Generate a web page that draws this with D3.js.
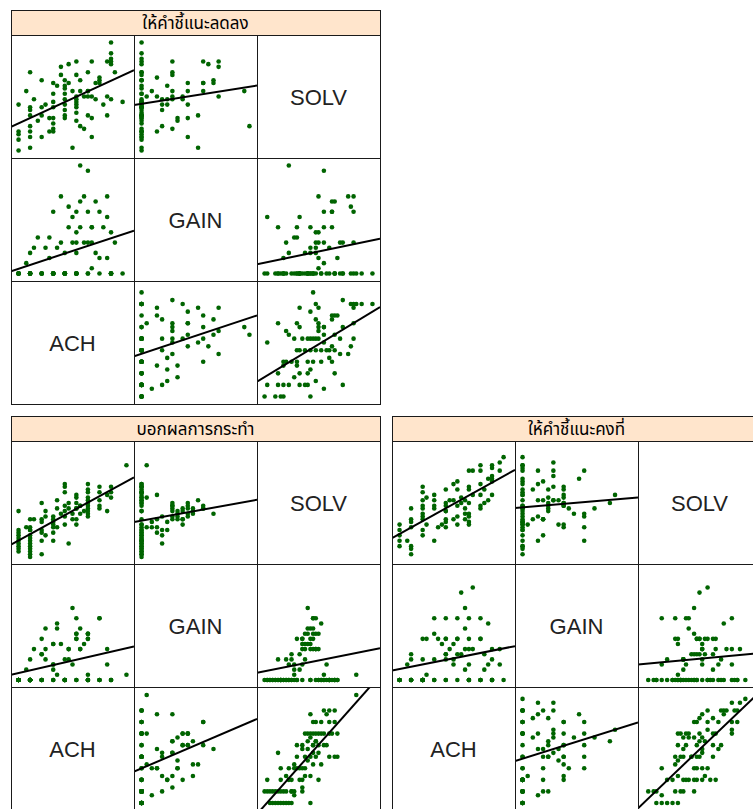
<!DOCTYPE html>
<html>
<head>
<meta charset="utf-8">
<script src="https://cdn.jsdelivr.net/npm/d3@7/dist/d3.min.js"></script>
<style>
  body { margin: 0; background: #fff; }
  svg { display: block; }
</style>
</head>
<body>
<svg id="chart" width="753" height="809"></svg>
<script>
// Variables of the scatterplot matrix, in column order (left to right).
const varNames = ["ACH", "GAIN", "SOLV"];

// Feedback groups, one splom panel each.
const groupNames = ["ให้คำชี้แนะลดลง", "บอกผลการกระทำ", "ให้คำชี้แนะคงที่"];

// One row per student: [ACH, GAIN, SOLV]
const studentsReduced = [
  [3,0,17],[3,0,7],[3,0,6],[3,0,4],[3,0,0],
  [6,0,29],[6,0,16],[6,0,15],[6,0,13],[6,0,7],[6,0,5],[6,0,1],
  [9,0,26],[9,0,16],[9,0,13],[9,0,5],
  [12,0,21],[12,0,18],[12,0,16],[12,0,12],[12,0,10],[12,0,8],[12,0,7],
  [15,0,26],[15,0,24],[15,0,23],[15,0,21],[15,0,19],[15,0,17],[15,0,13],[15,0,12],
  [18,0,28],[18,6,19],[18,0,18],[18,4,17],[18,0,16],[18,0,14],[18,0,11],
  [21,0,29],[21,6,20],[21,0,13],
  [24,3,27],[24,0,26],
  [27,0,40],[27,0,36],[27,0,34],[27,0,33],[27,0,32],
  [30,0,18],
  [5,2,22],[6,4,9],[7,5,19],[8,7,11],[10,5,17],[11,7,12],[11,3,7],[12,12,25],
  [13,5,24],[14,15,31],[14,6,28],[15,4,15],[16,13,32],[16,9,25],[17,6,22],[17,11,1],
  [18,12,33],[18,8,20],[19,14,26],[19,9,22],[19,21,9],[20,6,8],[20,15,20],[21,20,22],
  [21,12,22],[22,1,20],[22,9,5],[22,9,12],[22,6,33],[23,14,25],[24,12,25],[23,4,19],
  [25,9,17],[26,3,20],[27,8,19],[26,11,13],[26,15,33],[28,6,29]
];

const studentsOutcome = [
  [5,2,11],[6,4,10],[7,6,14],[9,8,14],[9,5,13],[10,4,8],[10,6,15],[10,10,17],
  [12,3,9],[12,2,13],[12,7,15],[13,1,11],[13,10,18],[14,7,16],[13,11,21],[16,4,5],
  [17,14,16],[16,6,18],[17,3,14],[18,12,18],[18,9,20],[18,8,12],[19,10,16],[19,6,19],
  [20,7,17],[21,8,18],[21,9,16],[21,1,22],[24,12,18],[26,6,17],[26,3,23],[31,1,34],
  [15,0,27],[21,0,27],[24,0,26],[27,0,26],[15,0,26],[21,0,25],[15,0,24],[21,0,24],
  [24,0,21],[27,0,24],[18,0,22],[9,0,20],[21,0,21],[21,0,20],[21,9,19],[15,0,19],
  [16,6,20],[19,6,19],[3,0,17],[15,0,17],[18,9,18],[6,0,14],[15,4,15],[18,8,14],
  [21,9,15],[21,8,17],[24,12,19],[6,0,11],[3,0,10],[6,0,10],[3,0,8],[6,0,8],
  [6,0,7],[9,0,9],[12,0,6],[3,0,6],[3,0,4],[3,0,2],[6,0,3],[6,0,1],
  [6,0,0],[9,0,1],[3,0,7],[6,0,5],[6,0,4],[6,0,6],[3,0,5],[6,0,2],
  [3,0,3],[3,0,9],[9,5,10],[12,3,11],[12,0,12],[15,0,12],[9,0,6],[12,7,14],
  [24,0,24],[18,0,23],[27,0,22]
];

const studentsSteady = [
  [30,0,37],[29,6,35],[27,0,34],[27,0,33],[24,0,34],[24,12,32],[22,6,32],[21,0,32],
  [29,3,32],[27,6,30],[26,11,29],[27,0,29],[27,4,28],[18,0,28],[17,3,27],
  [9,8,26],[9,0,24],[10,8,22],[9,0,21],[9,0,19],[9,0,18],[9,0,16],[9,0,15],
  [9,0,14],[10,1,12],[9,0,10],[9,4,8],
  [12,0,23],[12,4,21],[12,0,19],[12,9,18],
  [15,8,25],[18,5,25],[21,6,26],[21,0,25],[22,18,23],[24,0,27],[25,2,25],[24,8,23],
  [21,8,20],[20,6,21],[19,5,22],[18,8,19],[17,7,21],[16,6,21],[15,5,19],[15,5,17],
  [27,0,23],[24,8,19],[24,0,18],[19,17,20],[20,14,18],[20,10,16],[18,12,15],[20,2,14],
  [21,0,13],[21,0,12],[17,4,14],[18,8,12],[15,4,14],[15,0,13],[15,12,11],[21,12,16],
  [21,3,15],[6,5,18],[6,4,14],[6,0,13],[6,0,11],[3,0,12],[3,0,10],[3,0,8],
  [3,0,6],[3,0,4],[5,3,6],[6,0,4],[6,0,3],[6,0,1],[13,8,11],[12,12,6],
  [14,7,12],[15,8,20],[15,0,17],[25,5,20],[26,3,21]
];

const groupData = [studentsReduced, studentsOutcome, studentsSteady];

// ---- layout -------------------------------------------------------------
const cell = 123;            // side of one matrix cell
const stripH = 25;           // height of the strip holding the group name
const panelOrigins = [[11, 10], [11, 416.5], [392, 416.5]];
const pointColor = "#006400";

const svg = d3.select("#chart");

// Shared limits per variable over all groups, padded 7% on each side.
const allRows = groupData.flat();
const scaleFor = {};
varNames.forEach((name, i) => {
  const [lo, hi] = d3.extent(allRows, d => d[i]);
  const pad = (hi - lo) * 0.07;
  scaleFor[name] = { idx: i, lo: lo - pad, hi: hi + pad };
});

function xScale(name) {
  const s = scaleFor[name];
  return d3.scaleLinear().domain([s.lo, s.hi]).range([0, cell]);
}
function yScale(name) {
  const s = scaleFor[name];
  return d3.scaleLinear().domain([s.lo, s.hi]).range([cell, 0]);
}

// Least-squares fit of y on x.
function lmFit(xs, ys) {
  const mx = d3.mean(xs), my = d3.mean(ys);
  let sxy = 0, sxx = 0;
  xs.forEach((x, i) => { sxy += (x - mx) * (ys[i] - my); sxx += (x - mx) * (x - mx); });
  const b = sxy / sxx;
  return { a: my - b * mx, b };
}

let clipId = 0;

groupData.forEach((rows, gi) => {
  const [px, py] = panelOrigins[gi];
  const panel = svg.append("g").attr("transform", `translate(${px},${py})`);

  // strip
  panel.append("rect")
    .attr("x", 0).attr("y", 0)
    .attr("width", cell * 3).attr("height", stripH)
    .attr("fill", "#ffe5cc").attr("stroke", "#1a1a1a").attr("stroke-width", 1)
    .attr("shape-rendering", "crispEdges");
  panel.append("text")
    .attr("x", cell * 1.5).attr("y", stripH / 2 + 6)
    .attr("text-anchor", "middle")
    .attr("font-family", "Tahoma, 'Noto Sans Thai', 'DejaVu Sans', 'Noto Sans', sans-serif")
    .attr("font-size", 17)
    .attr("fill", "#000")
    .text(groupNames[gi]);

  const body = panel.append("g").attr("transform", `translate(0,${stripH})`);

  for (let r = 0; r < 3; r++) {
    for (let c = 0; c < 3; c++) {
      const xName = varNames[c];
      const yName = varNames[2 - r];
      const g = body.append("g").attr("transform", `translate(${c * cell},${r * cell})`);

      if (xName === yName) {
        g.append("text")
          .attr("x", cell / 2).attr("y", cell / 2 + 8)
          .attr("text-anchor", "middle")
          .attr("font-family", "'Liberation Sans', Arial, sans-serif")
          .attr("font-size", 22)
          .attr("fill", "#222")
          .text(xName);
      } else {
        const xs = xScale(xName), ys = yScale(yName);
        const xi = scaleFor[xName].idx, yi = scaleFor[yName].idx;
        const id = "clip" + (clipId++);
        g.append("clipPath").attr("id", id)
          .append("rect").attr("width", cell).attr("height", cell);
        const inner = g.append("g").attr("clip-path", `url(#${id})`);

        inner.selectAll("circle")
          .data(rows)
          .join("circle")
          .attr("cx", d => xs(d[xi]))
          .attr("cy", d => ys(d[yi]))
          .attr("r", 2.3)
          .attr("fill", pointColor);

        const fit = lmFit(rows.map(d => d[xi]), rows.map(d => d[yi]));
        const [x0, x1] = xs.domain();
        inner.append("line")
          .attr("x1", xs(x0)).attr("y1", ys(fit.a + fit.b * x0))
          .attr("x2", xs(x1)).attr("y2", ys(fit.a + fit.b * x1))
          .attr("stroke", "#000").attr("stroke-width", 2);
      }

      g.append("rect")
        .attr("width", cell).attr("height", cell)
        .attr("fill", "none").attr("stroke", "#1a1a1a").attr("stroke-width", 1)
        .attr("shape-rendering", "crispEdges");
    }
  }
});
</script>
</body>
</html>
